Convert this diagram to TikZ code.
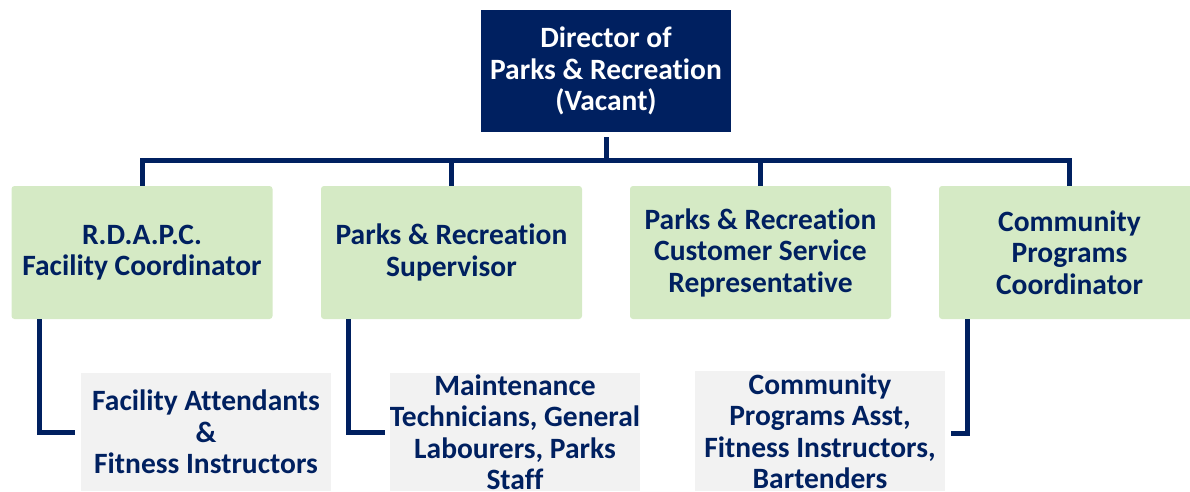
\documentclass[tikz,border=0pt]{standalone}
\usepackage{fontspec}
\setmainfont{Carlito}[Ligatures=NoCommon]
\definecolor{navy}{HTML}{002060}
\definecolor{lgreen}{HTML}{D5EAC5}
\definecolor{lgray}{HTML}{F2F2F2}
\begin{document}
\begin{tikzpicture}[x=1pt,y=1pt,
  txt/.style={font=\bfseries\fontsize{29.5}{31.5}\selectfont, align=center, inner sep=0pt},
  dirbox/.style={txt, fill=navy, text=white, minimum width=250pt, minimum height=122pt},
  greenbox/.style={txt, fill=lgreen, text=navy, rounded corners=3pt, minimum width=261pt, minimum height=133pt},
  graybox/.style={txt, fill=lgray, text=navy, minimum width=250pt, minimum height=118pt},
  conn/.style={draw=navy, line width=5pt}]
\useasboundingbox (0,0) rectangle (1190,-491);
\clip (0,0) rectangle (1190,-491);
\node[dirbox] (dir) at (606,-71) {Director of\\Parks \& Recreation\\(Vacant)};
\node[greenbox] (g1) at (142,-252.5) {R.D.A.P.C.\\Facility Coordinator};
\node[greenbox] (g2) at (451.5,-252.5) {Parks \& Recreation\\Supervisor};
\node[greenbox] (g3) at (760.5,-252.5) {Parks \& Recreation\\Customer Service\\Representative};
\node[greenbox] (g4) at (1069.5,-252.5) {Community\\Programs\\Coordinator};
\node[graybox] (s1) at (206,-432) {Facility Attendants\\\&\\Fitness Instructors};
\node[graybox] (s2) at (515,-432) {Maintenance\\Technicians, General\\Labourers, Parks\\Staff};
\node[graybox, minimum height=120pt] (s3) at (820,-431) {Community\\Programs Asst,\\Fitness Instructors,\\Bartenders};
\coordinate (bar) at (606,-160);
\foreach \g in {g1,g2,g3,g4}{
  \draw[conn] ([yshift=-5pt]dir.south) -- (bar) -| (\g.north);
}
\draw[conn] ([xshift=28pt]g1.south west) |- ([xshift=-6pt]s1.west);
\draw[conn] ([xshift=28pt]g2.south west) |- ([xshift=-5pt]s2.west);
\draw[conn] ([xshift=29pt]g4.south west) |- ([xshift=6pt,yshift=-2pt]s3.east);
\end{tikzpicture}
\end{document}
